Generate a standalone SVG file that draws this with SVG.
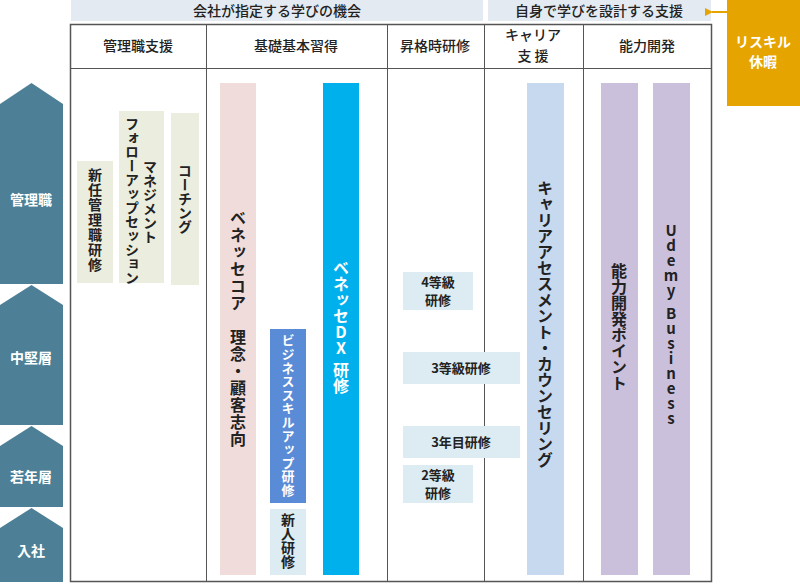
<svg xmlns="http://www.w3.org/2000/svg" width="800" height="584" viewBox="0 0 800 584">
<style>
text{font-family:"Noto Sans CJK JP","Noto Sans",sans-serif;fill:#222;}
.h{font-size:14px;font-weight:500;text-anchor:middle}
.v{writing-mode:vertical-rl;text-orientation:upright;font-weight:700;}
.w{fill:#fff}
.b{font-size:13px;font-weight:700;text-anchor:middle}
.lv{fill:#4d7f96}
.lt{font-size:14px;font-weight:700;fill:#fff;text-anchor:middle}
</style>
<defs><marker id="ah" markerWidth="8" markerHeight="8" refX="1" refY="4" orient="auto" markerUnits="userSpaceOnUse"><path d="M8,0 L0,4 L8,8 Z" fill="#e5a400"/></marker></defs>
<g id="banners">
<rect x="71" y="0" width="412" height="21" fill="#e3eaf1"/>
<text class="h" x="277" y="16" font-weight="500">会社が指定する学びの機会</text>
<rect x="488" y="0" width="223" height="21" fill="#e3eaf1"/>
<text class="h" x="599" y="16">自身で学びを設計する支援</text>
</g>
<g id="reskill">
<rect x="727" y="0" width="73" height="106" fill="#e5a400"/>
<text class="lt" x="763" y="47" font-size="15">リスキル</text>
<text class="lt" x="763" y="67" font-size="15">休暇</text>
</g>
<g id="connectors">
<line x1="727" y1="12" x2="712" y2="12" stroke="#e5a400" stroke-width="2" marker-end="url(#ah)"/>
</g>
<g id="table" fill="none" stroke="#555" stroke-width="1">
<rect x="70.5" y="24.5" width="641" height="557" stroke-width="1.5"/>
<line x1="70" y1="68.5" x2="711" y2="68.5"/>
<line x1="206.5" y1="24" x2="206.5" y2="582"/>
<line x1="387.5" y1="24" x2="387.5" y2="582"/>
<line x1="484.5" y1="24" x2="484.5" y2="582"/>
<line x1="583.5" y1="24" x2="583.5" y2="582"/>
</g>
<g id="headers">
<text class="h" x="138" y="51">管理職支援</text>
<text class="h" x="296" y="51">基礎基本習得</text>
<text class="h" x="435" y="51">昇格時研修</text>
<text class="h" x="533" y="40">キャリア</text>
<text class="h" x="533" y="61">支 援</text>
<text class="h" x="647" y="51">能力開発</text>
</g>
<g id="levels">
<path class="lv" d="M0,104 L31.5,83 L63,104 L63,284 L0,284 Z"/>
<text class="lt" x="31" y="205">管理職</text>
<path class="lv" d="M0,305 L31.5,285 L63,305 L63,425 L0,425 Z"/>
<text class="lt" x="31" y="363">中堅層</text>
<path class="lv" d="M0,446 L31.5,426 L63,446 L63,507 L0,507 Z"/>
<text class="lt" x="31" y="482">若年層</text>
<path class="lv" d="M0,528 L31.5,508 L63,528 L63,582 L0,582 Z"/>
<text class="lt" x="31" y="556">入社</text>
</g>
<g id="new-manager">
<rect x="77" y="161" width="36" height="122" fill="#ebeedf"/>
<text class="v" x="95" y="168" font-size="14" letter-spacing="1">新任管理職研修</text>
</g>
<g id="mgmt-followup">
<rect x="119" y="111" width="45" height="172" fill="#ebeedf"/>
<text class="v" x="150" y="160" font-size="14">マネジメント</text>
<text class="v" x="132" y="117" font-size="14">フォローアップセッション</text>
</g>
<g id="coaching">
<rect x="171" y="113" width="28" height="172" fill="#ebeedf"/>
<text class="v" x="185" y="164" font-size="14">コーチング</text>
</g>
<g id="benesse-core">
<rect x="220" y="83" width="36" height="492" fill="#f1dcdc"/>
<text class="v" x="238" y="210" font-size="16" letter-spacing="1">ベネッセコア　理念・顧客志向</text>
</g>
<g id="biz-skill">
<rect x="270" y="329" width="36" height="174" fill="#5a8bd6"/>
<text class="v w" x="288" y="334" font-size="13" letter-spacing="0.6">ビジネススキルアップ研修</text>
</g>
<g id="newcomer">
<rect x="270" y="509" width="36" height="66" fill="#dcecf2"/>
<text class="v" x="288" y="513" font-size="14">新人研修</text>
</g>
<g id="benesse-dx">
<rect x="323" y="83" width="36" height="492" fill="#00b0ec"/>
<text class="v w" x="341" y="260" font-size="16">ベネッセDX<tspan font-size="6"> </tspan>研修</text>
</g>
<g id="grade4">
<rect x="403" y="272" width="70" height="38" fill="#dcecf2"/>
<text class="b" x="438" y="287">4等級</text>
<text class="b" x="438" y="305">研修</text>
</g>
<g id="grade3">
<rect x="403" y="352" width="117" height="32" fill="#dcecf2"/>
<text class="b" x="461" y="373">3等級研修</text>
</g>
<g id="year3">
<rect x="403" y="426" width="117" height="32" fill="#dcecf2"/>
<text class="b" x="461" y="447">3年目研修</text>
</g>
<g id="grade2">
<rect x="403" y="465" width="70" height="38" fill="#dcecf2"/>
<text class="b" x="438" y="480">2等級</text>
<text class="b" x="438" y="498">研修</text>
</g>
<g id="career">
<rect x="527" y="83" width="37" height="492" fill="#c7d9ef"/>
<text class="v" x="545" y="180" font-size="16">キャリアアセスメント・カウンセリング</text>
</g>
<g id="points">
<rect x="601" y="83" width="37" height="492" fill="#cac0db"/>
<text class="v" x="619" y="263" font-size="16">能力開発ポイント</text>
</g>
<g id="udemy">
<rect x="653" y="83" width="37" height="492" fill="#cac0db"/>
<text class="v" x="671" y="223" font-size="15">Udemy<tspan font-size="8"> </tspan>Business</text>
</g>
</svg>
